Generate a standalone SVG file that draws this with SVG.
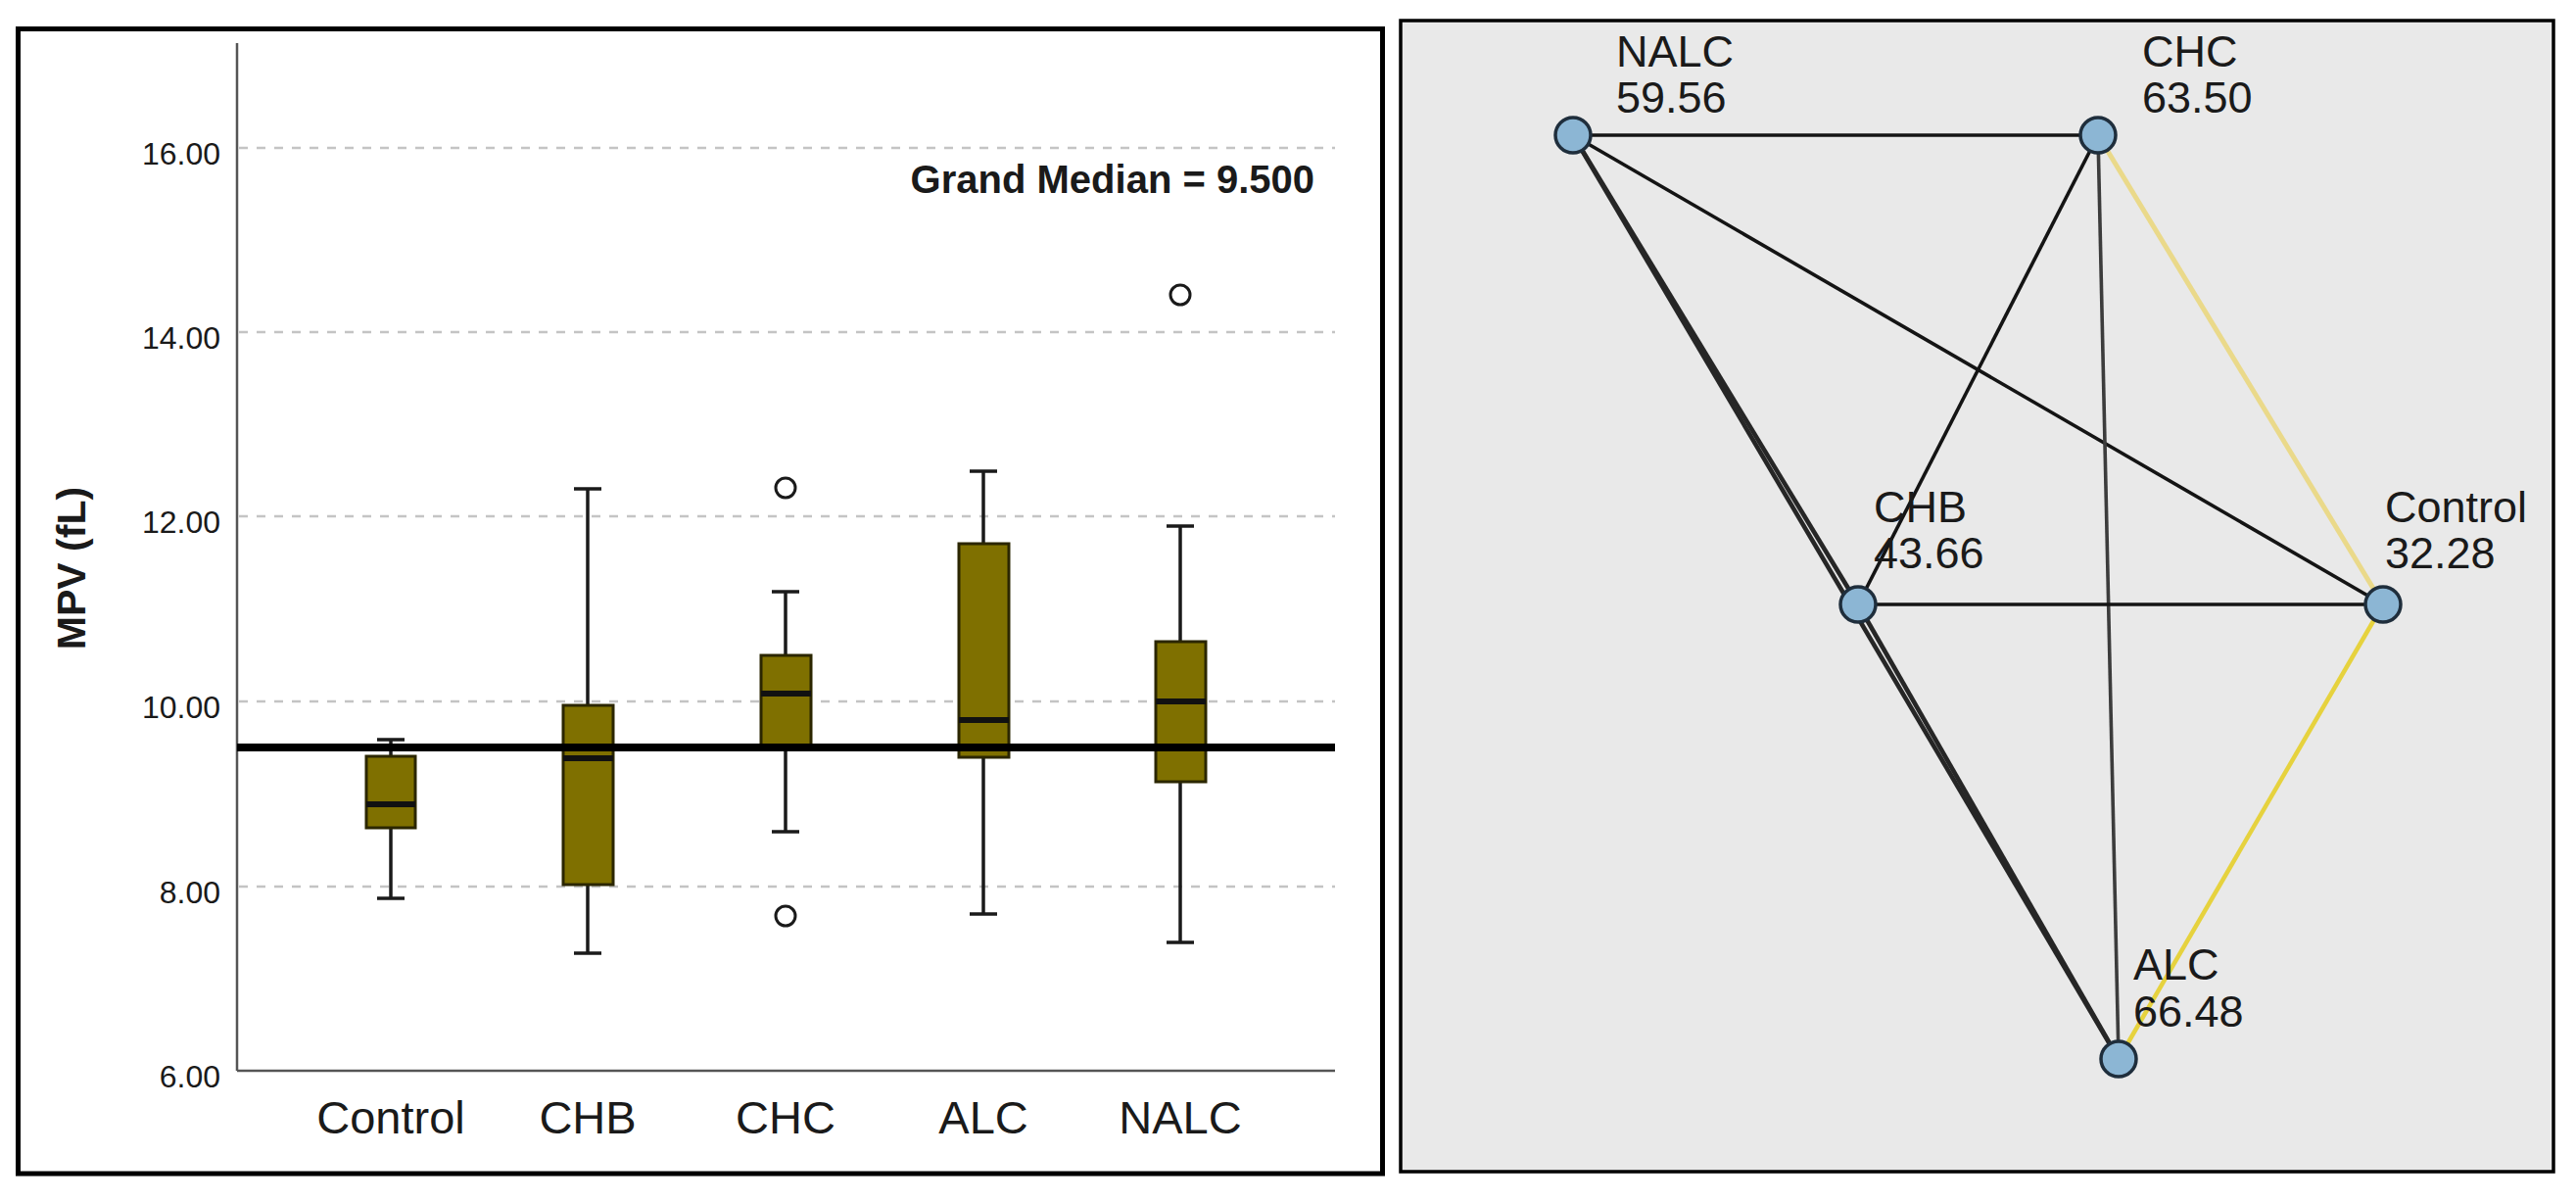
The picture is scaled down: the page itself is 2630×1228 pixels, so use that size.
<svg xmlns="http://www.w3.org/2000/svg" width="2630" height="1228" viewBox="0 0 2630 1228">
<style>
  .t { font-family: "Liberation Sans", Arial, sans-serif; fill: #1a1a1a; }
  .tick { font-size: 32px; text-anchor: end; }
  .xlab { font-size: 47px; text-anchor: middle; }
  .grid { stroke: #c4c4c4; stroke-width: 2.5; stroke-dasharray: 9 9; fill: none; }
  .axis { stroke: #555; stroke-width: 2.5; fill: none; }
  .box { fill: #7f7000; stroke: #2b2600; stroke-width: 3; }
  .med { stroke: #111; stroke-width: 6; }
  .wh { stroke: #1a1a1a; stroke-width: 3.5; fill: none; }
  .out { fill: none; stroke: #1a1a1a; stroke-width: 3; }
  .edge { stroke: #141414; stroke-width: 3.6; fill: none; }
  .edge-heavy { stroke: #262626; stroke-width: 4.6; fill: none; }
  .edge-gray { stroke: #3c3c3c; stroke-width: 3.6; fill: none; }
  .edge-y1 { stroke: #ead98a; stroke-width: 5; fill: none; }
  .edge-y2 { stroke: #e6d23e; stroke-width: 4.5; fill: none; }
  .node { fill: #8cb6d4; stroke: #1f2e3c; stroke-width: 3.5; }
  .nl { font-size: 45px; }
</style>
<rect x="0" y="0" width="2630" height="1228" fill="#ffffff"/>

<!-- Left panel: box plot -->
<g id="boxplot">
  <rect x="18.5" y="29.5" width="1393" height="1168.5" fill="#ffffff" stroke="#000" stroke-width="5"/>
  <g id="gridlines">
    <line class="grid" x1="244" y1="151" x2="1363" y2="151"/>
    <line class="grid" x1="244" y1="339" x2="1363" y2="339"/>
    <line class="grid" x1="244" y1="527" x2="1363" y2="527"/>
    <line class="grid" x1="244" y1="716" x2="1363" y2="716"/>
    <line class="grid" x1="244" y1="905" x2="1363" y2="905"/>
  </g>
  <g id="axes">
    <line class="axis" x1="242" y1="44" x2="242" y2="1093"/>
    <line class="axis" x1="242" y1="1093" x2="1363" y2="1093"/>
  </g>
  <g id="yticks" class="t tick">
    <text x="225" y="168">16.00</text>
    <text x="225" y="356">14.00</text>
    <text x="225" y="544">12.00</text>
    <text x="225" y="733">10.00</text>
    <text x="225" y="922">8.00</text>
    <text x="225" y="1110">6.00</text>
  </g>
  <text id="ylabel" class="t" transform="translate(87,580) rotate(-90)" text-anchor="middle" font-size="41" font-weight="bold" fill="#000">MPV (fL)</text>

  <g id="box-control">
    <line class="wh" x1="399" y1="755" x2="399" y2="772"/>
    <line class="wh" x1="399" y1="845" x2="399" y2="917"/>
    <line class="wh" x1="385" y1="755" x2="413" y2="755"/>
    <line class="wh" x1="385" y1="917" x2="413" y2="917"/>
    <rect class="box" x="374" y="772" width="50" height="73"/>
    <line class="med" x1="374" y1="821" x2="424" y2="821"/>
  </g>
  <g id="box-chb">
    <line class="wh" x1="600" y1="499" x2="600" y2="720"/>
    <line class="wh" x1="600" y1="903" x2="600" y2="973"/>
    <line class="wh" x1="586" y1="499" x2="614" y2="499"/>
    <line class="wh" x1="586" y1="973" x2="614" y2="973"/>
    <rect class="box" x="575" y="720" width="51" height="183"/>
    <line class="med" x1="575" y1="774" x2="626" y2="774"/>
  </g>
  <g id="box-chc">
    <line class="wh" x1="802" y1="604" x2="802" y2="669"/>
    <line class="wh" x1="802" y1="763" x2="802" y2="849"/>
    <line class="wh" x1="788" y1="604" x2="816" y2="604"/>
    <line class="wh" x1="788" y1="849" x2="816" y2="849"/>
    <rect class="box" x="777" y="669" width="51" height="94"/>
    <line class="med" x1="777" y1="708" x2="828" y2="708"/>
    <circle class="out" cx="802" cy="498" r="10"/>
    <circle class="out" cx="802" cy="935" r="10"/>
  </g>
  <g id="box-alc">
    <line class="wh" x1="1004" y1="481" x2="1004" y2="555"/>
    <line class="wh" x1="1004" y1="773" x2="1004" y2="933"/>
    <line class="wh" x1="990" y1="481" x2="1018" y2="481"/>
    <line class="wh" x1="990" y1="933" x2="1018" y2="933"/>
    <rect class="box" x="979" y="555" width="51" height="218"/>
    <line class="med" x1="979" y1="735" x2="1030" y2="735"/>
  </g>
  <g id="box-nalc">
    <line class="wh" x1="1205" y1="537" x2="1205" y2="655"/>
    <line class="wh" x1="1205" y1="798" x2="1205" y2="962"/>
    <line class="wh" x1="1191" y1="537" x2="1219" y2="537"/>
    <line class="wh" x1="1191" y1="962" x2="1219" y2="962"/>
    <rect class="box" x="1180" y="655" width="51" height="143"/>
    <line class="med" x1="1180" y1="716" x2="1231" y2="716"/>
    <circle class="out" cx="1205" cy="301" r="10"/>
  </g>
  <line id="grand-median" x1="242" y1="763" x2="1363" y2="763" stroke="#000" stroke-width="8"/>
  <text id="grand-median-label" class="t" x="1342" y="197" text-anchor="end" font-size="40" font-weight="bold" fill="#000">Grand Median = 9.500</text>
  <g id="xlabels" class="t xlab">
    <text x="399" y="1157">Control</text>
    <text x="600" y="1157">CHB</text>
    <text x="802" y="1157">CHC</text>
    <text x="1004" y="1157">ALC</text>
    <text x="1205" y="1157">NALC</text>
  </g>
</g>

<!-- Right panel: network -->
<g id="network">
  <rect x="1430" y="21" width="1177" height="1175" fill="#e9e9e9" stroke="#000" stroke-width="3.5"/>
  <g id="connectors">
    <line class="edge" x1="1606" y1="138" x2="2142" y2="138"/>
    <line class="edge" x1="1606" y1="138" x2="2433" y2="617"/>
    <line class="edge-heavy" x1="1606" y1="138" x2="1897" y2="617"/>
    <line class="edge-heavy" x1="1606" y1="138" x2="2163" y2="1081"/>
    <line class="edge-heavy" x1="1897" y1="617" x2="2163" y2="1081"/>
    <line class="edge" x1="2142" y1="138" x2="1897" y2="617"/>
    <line class="edge-gray" x1="2142" y1="138" x2="2163" y2="1081"/>
    <line class="edge" x1="1897" y1="617" x2="2433" y2="617"/>
    <line class="edge-y1" x1="2142" y1="138" x2="2433" y2="617"/>
    <line class="edge-y2" x1="2433" y1="617" x2="2163" y2="1081"/>
  </g>
  <g id="node-nalc">
    <circle class="node" cx="1606" cy="138" r="18"/>
    <text class="t nl" x="1650" y="68">NALC</text>
    <text class="t nl" x="1650" y="115">59.56</text>
  </g>
  <g id="node-chc">
    <circle class="node" cx="2142" cy="138" r="18"/>
    <text class="t nl" x="2187" y="68">CHC</text>
    <text class="t nl" x="2187" y="115">63.50</text>
  </g>
  <g id="node-chb">
    <circle class="node" cx="1897" cy="617" r="18"/>
    <text class="t nl" x="1913" y="533">CHB</text>
    <text class="t nl" x="1913" y="580">43.66</text>
  </g>
  <g id="node-control">
    <circle class="node" cx="2433" cy="617" r="18"/>
    <text class="t nl" x="2435" y="533">Control</text>
    <text class="t nl" x="2435" y="580">32.28</text>
  </g>
  <g id="node-alc">
    <circle class="node" cx="2163" cy="1081" r="18"/>
    <text class="t nl" x="2178" y="1000">ALC</text>
    <text class="t nl" x="2178" y="1048">66.48</text>
  </g>
</g>
</svg>
